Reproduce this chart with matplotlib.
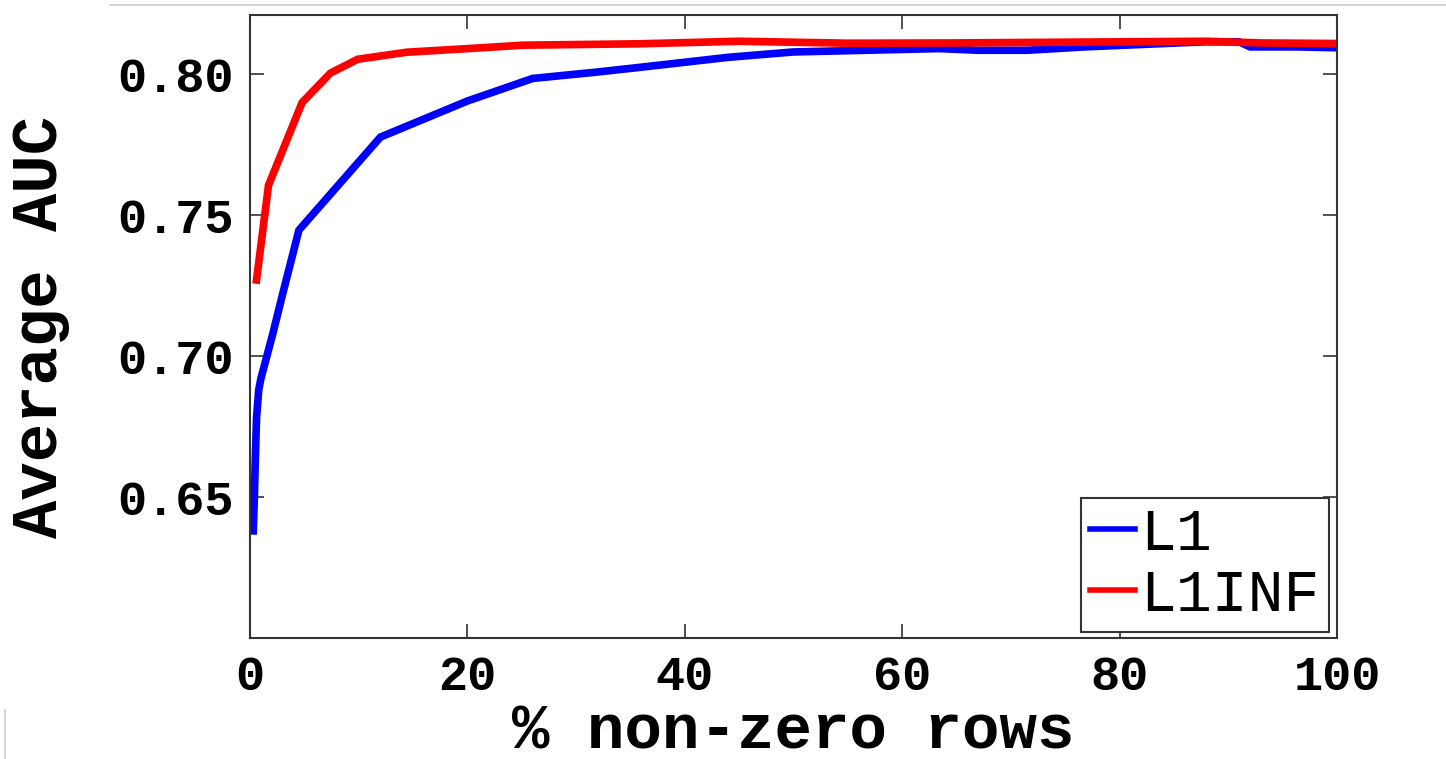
import matplotlib
matplotlib.use("Agg")
import matplotlib.pyplot as plt
from matplotlib.lines import Line2D

# data
l1_x = [0.3, 0.4, 0.5, 0.6, 0.8, 1.0, 2.1, 3.0, 4.5, 12.0, 20.0, 26.0, 32.0,
        36.0, 44.0, 50.0, 63.4, 67.0, 71.5, 76.8, 87.8, 91.0, 92.0, 96.4, 100.0]
l1_y = [0.638, 0.650, 0.665, 0.678, 0.688, 0.692, 0.708, 0.722, 0.7447, 0.7777,
        0.7905, 0.7985, 0.8008, 0.8025, 0.806, 0.8079, 0.8091, 0.8085, 0.8085,
        0.8097, 0.8115, 0.8115, 0.8097, 0.8097, 0.8094]

l1inf_x = [0.6, 1.7, 4.8, 7.4, 9.9, 14.4, 20.5, 25.1, 35.9, 45.0, 55.0, 65.0,
           80.0, 88.0, 93.0, 100.0]
l1inf_y = [0.727, 0.7606, 0.790, 0.8004, 0.8053, 0.8078, 0.8092, 0.8103, 0.8108,
           0.8117, 0.8110, 0.8111, 0.8115, 0.8117, 0.8111, 0.8109]

x_ticks = [0, 20, 40, 60, 80, 100]
y_ticks = [0.65, 0.70, 0.75, 0.80]
y_tick_labels = ["0.65", "0.70", "0.75", "0.80"]
series_names = ["L1", "L1INF"]

fig = plt.figure(figsize=(14.46, 7.59), dpi=100)
ax = fig.add_axes([0.1729, 0.1594, 0.7517, 0.8208])

ax.plot(l1_x, l1_y, color="#0000ff", lw=5.5, solid_joinstyle="miter")
ax.plot(l1inf_x, l1inf_y, color="#ff0000", lw=5.5, solid_joinstyle="miter")

ax.set_xlim(0, 100)
ax.set_ylim(0.60, 0.821)
ax.set_xticks(x_ticks)
ax.set_yticks(y_ticks)
ax.set_yticklabels(y_tick_labels)

mono = "Liberation Mono"
for lab in ax.get_xticklabels() + ax.get_yticklabels():
    lab.set_family(mono)
    lab.set_weight("bold")
    lab.set_size(35)

ax.tick_params(direction="in", length=10, width=1.2, top=True, right=True,
               pad=12, color="#333333")
for s in ax.spines.values():
    s.set_linewidth(1.5)
    s.set_color("#333333")

ax.set_xlabel("% non-zero rows", family=mono, weight="bold", fontsize=45, labelpad=2)
ax.set_ylabel("Average AUC", family=mono, weight="bold", fontsize=46, labelpad=34)

handles = [Line2D([], [], color="#0000ff", lw=4),
           Line2D([], [], color="#ff0000", lw=4)]
leg = ax.legend(handles, series_names, loc="lower right",
                bbox_to_anchor=(0.9925, 0.01),
                prop={"family": mono, "size": 43},
                handlelength=0.75, handletextpad=0.1, borderpad=0.15,
                labelspacing=0.1, borderaxespad=0.0, fancybox=False,
                framealpha=1, edgecolor="#333333")
leg.get_frame().set_linewidth(1.5)

# faint border lines left over in the reference image
fig.add_artist(Line2D([0.076, 1.0], [0.993, 0.993], color="#cccccc", lw=1.2,
                      transform=fig.transFigure))
fig.add_artist(Line2D([0.0035, 0.0035], [0.0, 0.065], color="#cccccc", lw=1.2,
                      transform=fig.transFigure))

fig.savefig("out.png", dpi=100)
